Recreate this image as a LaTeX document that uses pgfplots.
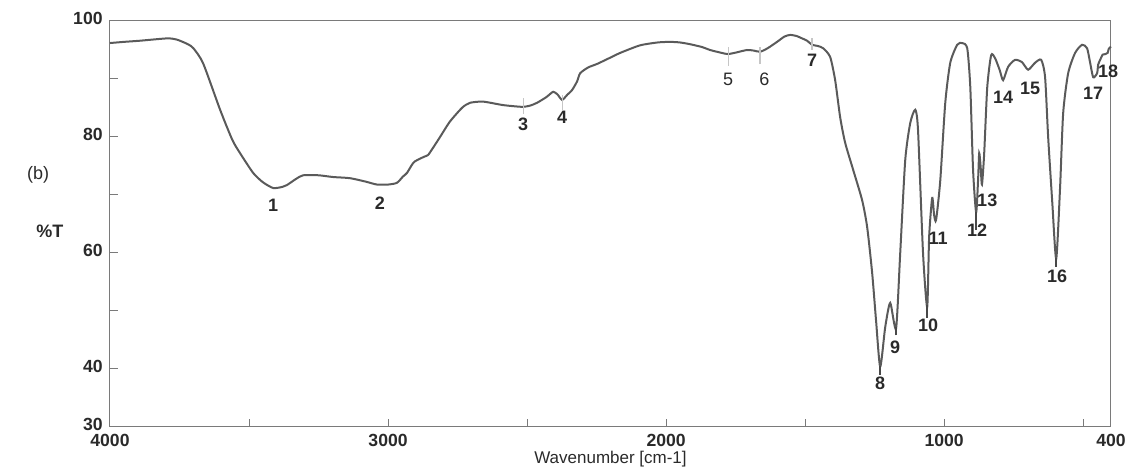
\documentclass[border=0pt]{standalone}
\usepackage{pgfplots}
\pgfplotsset{compat=1.18}
\usepackage{fontspec}
\setmainfont{Liberation Sans}
\definecolor{curve}{HTML}{5A5A5A}
\definecolor{frame}{HTML}{7A7A7A}
\definecolor{txt}{HTML}{2A2A2A}
\begin{document}
\begin{tikzpicture}
\path[use as bounding box] (-55pt,-21pt) rectangle (510pt,213.5pt);
\begin{axis}[
  at={(0,0)}, anchor=south west,
  scale only axis, width=500.5pt, height=203pt,
  x dir=reverse, xmin=400, xmax=4000, ymin=30, ymax=100,
  xtick={4000,3000,2000,1000,400},
  xticklabels={4000,3000,2000,1000,400},
  extra x ticks={3500,2500,1500,500}, extra x tick labels={},
  ytick={30,40,60,80,100},
  extra y ticks={50,70,90}, extra y tick labels={},
  tick pos=left, tick align=inside, major tick length=4pt,
  axis line style={frame, line width=0.5pt},
  every tick/.style={frame, line width=0.5pt},
  /pgf/number format/assume math mode=true,
  /pgf/number format/.cd, 1000 sep={}, /pgfplots/.cd,
  ticklabel style={font=\bfseries\fontsize{8.8}{10}\selectfont, text=txt},
  xticklabel style={inner sep=0.5pt, yshift=-3pt},
  yticklabel style={inner sep=1pt, xshift=-2.5pt, yshift=1.5pt},
  xlabel={Wavenumber [cm-1]},
  xlabel style={at={(axis description cs:0.5,0)}, anchor=center, inner sep=0.3pt, yshift=-16pt, font=\fontsize{8.5}{10}\selectfont, text=txt},
  clip=false,
]
\addplot[curve, line width=1pt, smooth, tension=0.4] coordinates {
(4000,96.2) (3950,96.4) (3892,96.6) (3795,97.0) (3760,96.8) (3720,96.0) (3700,95.3)
(3665,92.7) (3604,84.7) (3560,79.5) (3532,77.2) (3485,73.8) (3450,72.2) (3413,71.2)
(3380,71.4) (3364,71.7) (3330,72.8) (3305,73.4) (3250,73.4) (3198,73.1) (3137,72.9)
(3080,72.3) (3040,71.8) (3000,71.8) (2968,72.1) (2946,73.2) (2932,73.8) (2910,75.5)
(2896,76.0) (2870,76.6) (2856,76.9) (2840,78.0) (2813,80.0) (2780,82.5) (2752,84.1)
(2730,85.2) (2705,85.9) (2658,86.1) (2586,85.5) (2518,85.2) (2490,85.4) (2464,85.9)
(2430,86.9) (2406,87.8) (2390,87.3) (2374,86.4) (2355,87.3) (2338,88.1) (2320,89.6)
(2309,91.0) (2280,92.0) (2248,92.6) (2200,93.7) (2165,94.5) (2094,95.8) (2030,96.3)
(1986,96.4) (1950,96.3) (1914,96.0) (1870,95.5) (1842,95.0) (1800,94.5) (1777,94.3)
(1745,94.6) (1709,95.0) (1685,94.9) (1662,94.7) (1635,95.3) (1601,96.4) (1575,97.3)
(1554,97.6) (1530,97.4) (1511,97.0) (1493,96.6) (1475,95.9) (1455,95.7) (1435,95.3)
(1410,93.8) (1392,89.8) (1374,83.4) (1356,79.0) (1327,74.3) (1295,69.1) (1277,64.5)
(1259,56.6) (1245,48.4) (1230,40.4) (1212,47.2) (1194,51.4) (1173,47.0) (1158,60.0)
(1140,76.0) (1122,82.4) (1104,84.7) (1094,81.2) (1076,60.0) (1061,50.7) (1054,62.8)
(1043,69.5) (1036,66.5) (1029,65.7) (1014,72.5) (996,85.9) (978,92.8) (953,95.9)
(935,96.2) (917,95.3) (906,88.6) (896,74.3) (885,67.0) (878,72.6) (874,77.2)
(869,75.0) (864,71.8) (856,77.2) (845,88.6) (831,94.1) (817,93.6) (800,91.5)
(788,89.8) (770,92.1) (745,93.3) (720,92.9) (698,91.6) (673,92.8) (651,93.3)
(637,90.3) (626,80.0) (611,68.6) (597,59.0) (583,71.4) (572,84.1) (554,91.0)
(529,94.5) (504,95.9) (486,95.3) (475,92.8) (464,90.3) (450,91.0) (446,92.5)
(438,93.4) (430,94.2) (420,94.3) (412,94.5) (408,95.2) (400,95.6)
};
% peak marker ticks
\draw[gray!45, line width=0.6pt] (axis cs:2514,84.0) -- (axis cs:2514,86.8);
\draw[gray!45, line width=0.6pt] (axis cs:2374,84.6) -- (axis cs:2374,87.2);
\draw[gray!45, line width=0.6pt] (axis cs:1777,92.3) -- (axis cs:1777,95.5);
\draw[gray!45, line width=0.6pt] (axis cs:1662,92.5) -- (axis cs:1662,95.6);
\draw[gray!45, line width=0.6pt] (axis cs:1475,95.0) -- (axis cs:1475,97.0);
\draw[curve!80!black, line width=0.8pt] (axis cs:885,64.0) -- (axis cs:885,67.0);
\draw[curve!80!black, line width=0.8pt] (axis cs:1061,48.8) -- (axis cs:1061,51.0);
\draw[curve!80!black, line width=0.8pt] (axis cs:1230,39.0) -- (axis cs:1230,40.6);
\draw[curve!80!black, line width=0.8pt] (axis cs:1173,45.8) -- (axis cs:1173,47.2);
\draw[curve!80!black, line width=0.8pt] (axis cs:597,57.6) -- (axis cs:597,59.2);
% peak labels
\begin{scope}[every node/.style={font=\bfseries\fontsize{9}{10}\selectfont, text=txt, inner sep=0pt}]
\node at (axis cs:3413,68.3) {1};
\node at (axis cs:3029,68.6) {2};
\node at (axis cs:2514,82.2) {3};
\node at (axis cs:2374,83.4) {4};
\node[font=\fontsize{9}{10}\selectfont] at (axis cs:1777,90.0) {5};
\node[font=\fontsize{9}{10}\selectfont] at (axis cs:1647,90.0) {6};
\node at (axis cs:1475,93.3) {7};
\node at (axis cs:1230,37.6) {8};
\node at (axis cs:1176,43.8) {9};
\node at (axis cs:1058,47.6) {10};
\node at (axis cs:1022,62.6) {11};
\node at (axis cs:881,64.0) {12};
\node at (axis cs:845,69.0) {13};
\node at (axis cs:788,86.9) {14};
\node at (axis cs:691,88.4) {15};
\node at (axis cs:594,55.9) {16};
\node at (axis cs:464,87.6) {17};
\node at (axis cs:410,91.4) {18};
\end{scope}
\node[font=\fontsize{9}{10}\selectfont, text=txt] at (rel axis cs:-0.0719,0.621) {(b)};
\node[font=\bfseries\fontsize{9}{10}\selectfont, text=txt] at (rel axis cs:-0.06,0.483) {\%T};
\end{axis}
\end{tikzpicture}
\end{document}
